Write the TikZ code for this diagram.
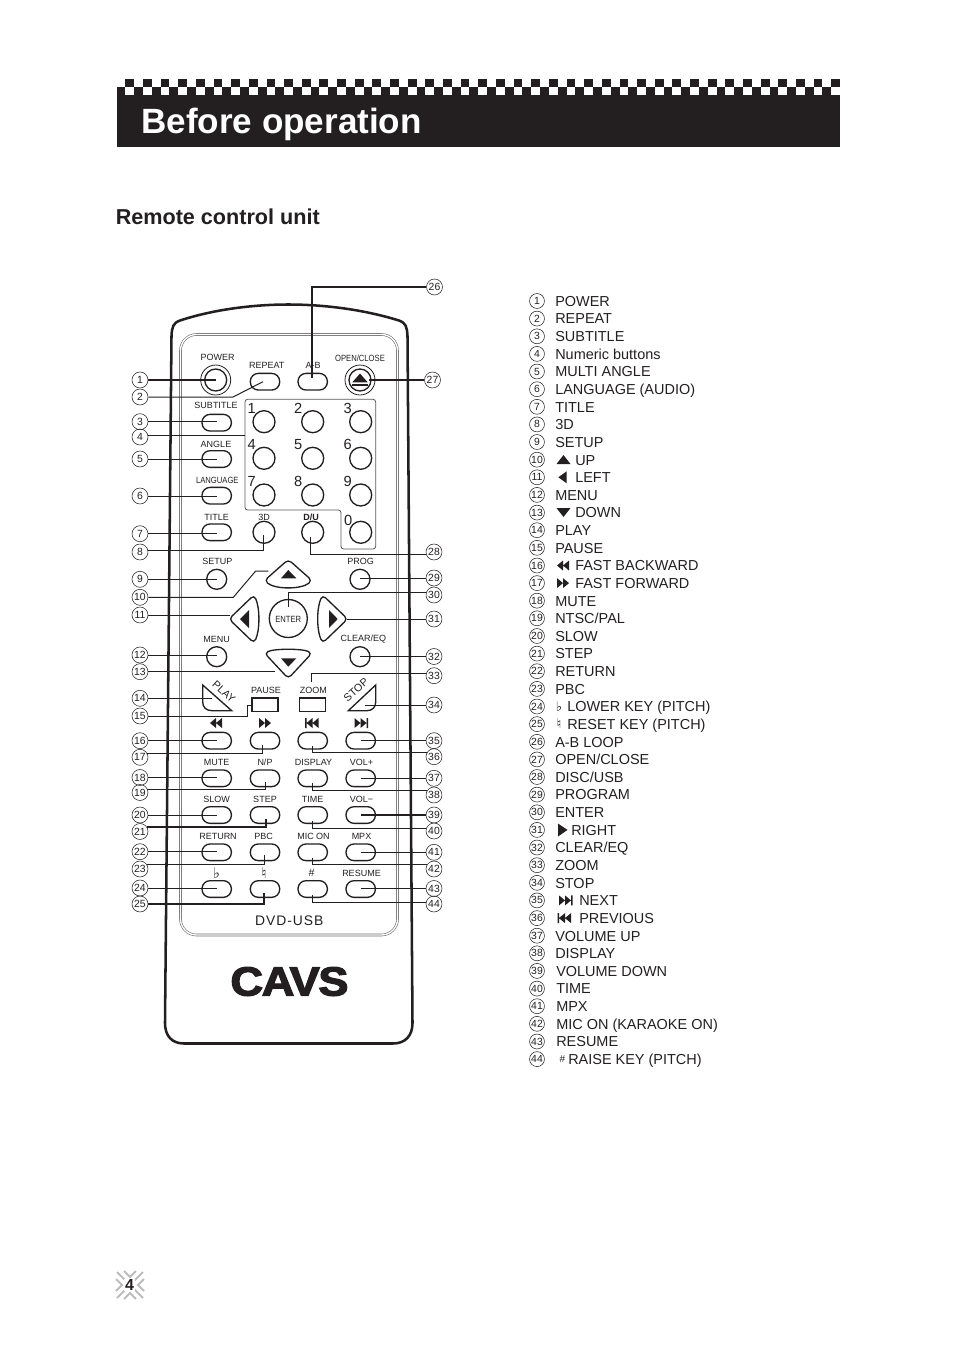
\documentclass[tikz,border=0pt]{standalone}
\usepackage{fontspec}
\setmainfont{Liberation Sans}
\newfontfamily\symf{DejaVu Sans}
\newfontfamily\logof[FakeBold=3,LetterSpace=-3]{Liberation Sans Bold}
\definecolor{ink}{HTML}{231F20}
\tikzset{
  numa/.style={circle,draw=ink,line width=.4pt,inner sep=0pt,minimum size=12pt,text=ink,font=\fontsize{7.8}{8}\selectfont},
  numb/.style={numa,minimum size=11.2pt},
  item/.style={anchor=west,inner sep=0pt,text=ink,text height=8pt,text depth=0pt,font=\fontsize{10.85}{12}\selectfont},
  pill/.style={rectangle,draw=ink,line width=1pt,rounded corners=6pt,minimum width=22pt,minimum height=12.5pt,inner sep=0pt},
  bigc/.style={circle,draw=ink,line width=1pt,minimum size=16.5pt,inner sep=0pt},
  smallc/.style={bigc,minimum size=15pt},
  lab/.style={inner sep=0pt,text=ink,font=\fontsize{6.75}{8}\selectfont},
  lead/.style={draw=ink,line width=.75pt},
  leadb/.style={draw=ink,line width=1.4pt},
  padkey/.style={draw=ink,line width=1pt,rounded corners=3pt},
}
\newcommand{\listrow}[4]{\node[numb] (c#1) at (537,#2) {#1}; \node[item] (t#1) at (#3,#2) {#4};}
\newcommand{\rewsym}[3]{\fill[ink,shift={(#1,#2)},#3] (-6,0) -- (0,-5) -- (0,5) -- cycle (0,0) -- (6,-5) -- (6,5) -- cycle;}
\newcommand{\prevsym}[3]{\fill[ink,shift={(#1,#2)},#3] (-7.5,-5) rectangle (-6,5) (-6,0) -- (0,-5) -- (0,5) -- cycle (0,0) -- (6,-5) -- (6,5) -- cycle;}
\begin{document}
\begin{tikzpicture}[x=.75pt,y=-.75pt]
  \useasboundingbox (0,0) rectangle (954,1350);
  % header
  \fill[ink] (116.5,87) rectangle (839.5,147);
  \foreach \k in {0,...,40}{
    \fill[ink] (125.3+17.65*\k,78.5) rectangle +(8.8,8.5);
    \fill[white] (125.3+17.65*\k,87) rectangle +(8.8,8.3);
  }
  \node[anchor=west,inner sep=0pt,text=white,font=\fontsize{26.3}{30}\bfseries\selectfont] (title) at (141,124) {Before operation};
  \node[anchor=west,inner sep=0pt,text=ink,font=\fontsize{16.2}{18}\bfseries\selectfont] (sub) at (115.5,217) {Remote control unit};
  % body
  \draw[ink,line width=1.9pt] (165,1023) -- (171.5,336) .. controls (172,327) and (173,323) .. (180,320.5)
    .. controls (215,309) and (255,304.5) .. (288.3,304.5) .. controls (322,304.5) and (362,309) .. (399,320.5)
    .. controls (406,323) and (407,327) .. (407.5,336) -- (412.5,1023) .. controls (412.5,1036) and (405,1043.5) .. (393,1043.5)
    -- (184,1043.5) .. controls (172,1043.5) and (165,1036) .. (165,1023) -- cycle;
  \draw[ink!65,line width=.45pt,double,double distance=1pt,rounded corners=12pt] (180.5,334.5) rectangle (397.5,935);
  \node[font=\fontsize{10.4}{12}\selectfont\addfontfeature{LetterSpace=7},text=ink,inner sep=0pt] (model) at (289.3,920.7) {DVD-USB};
  \node[font=\logof\fontsize{30.5}{34}\selectfont,text=ink,inner sep=0pt] (logo) at (289.5,981.5) {\scalebox{1.11}[1]{CAVS}};
  % top row
  \node[circle,draw=ink,line width=.6pt,minimum size=22.5pt,inner sep=0pt] (power2) at (215.7,380) {};
  \node[bigc] (power) at (215.7,380) {};
  \node[lab] (powerL) at (217.7,357.7) {POWER};
  \node[pill] (rep) at (265,381.7) {};
  \node[lab] (repL) at (266.7,365.7) {REPEAT};
  \node[pill] (ab) at (312.7,381.7) {};
  \node[lab] (abL) at (313,365.7) {A-B};
  \node[circle,draw=ink,line width=.6pt,minimum size=22.5pt,inner sep=0pt] (open2) at (360,380) {};
  \node[bigc] (open) at (360,380) {};
  \fill[ink] (360,373.5) -- (367.7,382.3) -- (352.3,382.3) -- cycle;
  \fill[ink] (352.3,384.3) rectangle (367.7,385.6);
  \node[lab] (openL) at (360,358) {\scalebox{.85}[1]{OPEN/CLOSE}};
  % left column
  \node[pill] (subt) at (216.7,422.7) {};
  \node[lab] (subtL) at (216,405.7) {SUBTITLE};
  \node[pill] (angle) at (216.7,459) {};
  \node[lab] (angleL) at (216,444) {ANGLE};
  \node[pill] (lang) at (216.7,495.7) {};
  \node[lab] (langL) at (217.3,480.7) {\scalebox{.85}[1]{LANGUAGE}};
  \node[pill] (ttl) at (216.7,532.3) {};
  \node[lab] (ttlL) at (216.7,517.7) {TITLE};
  % numeric buttons
  \draw[ink!75,line width=.6pt,rounded corners=2pt] (245,399.3) -- (375.7,399.3) -- (375.7,549) -- (341,549) -- (341,510) -- (245,510) -- cycle;
  \coordinate (t4) at (245,436);
  \node[bigc] (k1) at (264,421.7) {};
  \node[bigc] (k2) at (312.7,421.7) {};
  \node[bigc] (k3) at (360.7,421.7) {};
  \node[bigc] (k4) at (264,458.3) {};
  \node[bigc] (k5) at (312.7,458.3) {};
  \node[bigc] (k6) at (360.7,458.3) {};
  \node[bigc] (k7) at (264,495) {};
  \node[bigc] (k8) at (312.7,495) {};
  \node[bigc] (k9) at (360.7,495) {};
  \node[bigc] (k0) at (360.7,532.3) {};
  \node[lab,font=\fontsize{11}{12}\selectfont] (k1L) at (251.7,408) {1};
  \node[lab,font=\fontsize{11}{12}\selectfont] (k2L) at (298.3,408) {2};
  \node[lab,font=\fontsize{11}{12}\selectfont] (k3L) at (347.7,408) {3};
  \node[lab,font=\fontsize{11}{12}\selectfont] (k4L) at (251.7,444.5) {4};
  \node[lab,font=\fontsize{11}{12}\selectfont] (k5L) at (298.3,444.5) {5};
  \node[lab,font=\fontsize{11}{12}\selectfont] (k6L) at (347.7,444.5) {6};
  \node[lab,font=\fontsize{11}{12}\selectfont] (k7L) at (251.7,481) {7};
  \node[lab,font=\fontsize{11}{12}\selectfont] (k8L) at (298.3,481) {8};
  \node[lab,font=\fontsize{11}{12}\selectfont] (k9L) at (347.7,481) {9};
  \node[lab,font=\fontsize{11}{12}\selectfont] (k0L) at (348.3,520) {0};
  \node[bigc] (td) at (264,532.3) {};
  \node[lab] (tdL) at (264,517.7) {3D};
  \node[bigc] (du) at (312.7,532.3) {};
  \node[lab,font=\fontsize{6.75}{8}\bfseries\selectfont] (duL) at (311,517.7) {D/U};
  % cursor pad
  \node[smallc] (setup) at (216.7,579.3) {};
  \node[lab] (setupL) at (217.3,561.7) {SETUP};
  \node[smallc] (prog) at (360,579.3) {};
  \node[lab] (progL) at (360.7,561.7) {PROG};
  \node[smallc] (menu) at (216.7,656.7) {};
  \node[lab] (menuL) at (216.7,639.3) {MENU};
  \node[smallc] (clr) at (360,656.7) {};
  \node[lab] (clrL) at (363.3,639.3) {CLEAR/EQ};
  \node[circle,draw=ink,line width=1pt,minimum size=28.5pt,inner sep=0pt] (enter) at (288.3,618.5) {};
  \node[lab] (enterL) at (288.3,619) {\scalebox{.85}[1]{ENTER}};
  \draw[padkey] (288.3,559.5) -- (264.5,580.5) .. controls (275,589.5) and (301.5,589.5) .. (312,580.5) -- cycle;
  \fill[ink] (288.3,570) -- (296.3,578.3) -- (281,578.3) -- cycle;
  \draw[padkey] (288.3,678.5) -- (264.5,653) .. controls (275,648.5) and (301.5,648.5) .. (312,653) -- cycle;
  \fill[ink] (288.3,666.7) -- (296.3,658.3) -- (281,658.3) -- cycle;
  \draw[padkey] (229,619) -- (254,595) .. controls (260,608) and (260,630) .. (254,643) -- cycle;
  \fill[ink] (240,619) -- (249,610) -- (249,628) -- cycle;
  \draw[padkey] (347.6,619) -- (322.6,595) .. controls (316.6,608) and (316.6,630) .. (322.6,643) -- cycle;
  \fill[ink] (337.7,619) -- (329,610) -- (329,628) -- cycle;
  % play, pause, zoom, stop
  \draw[ink,line width=1pt] (202.7,685) -- (231.7,710.7) -- (212,710.7) .. controls (206,710.7) and (202.7,707) .. (202.7,702) -- cycle;
  \node[lab,rotate=-42,font=\fontsize{8}{9}\selectfont] (playL) at (224,692) {PLAY};
  \draw[ink,line width=1pt] (375.7,685) -- (348.3,710.7) -- (367,710.7) .. controls (372.5,710.7) and (375.7,707) .. (375.7,702) -- cycle;
  \node[lab,rotate=42,font=\fontsize{8}{9}\selectfont] (stopL) at (356,690) {STOP};
  \node[rectangle,draw=ink,line width=1.1pt,minimum width=19.5pt,minimum height=10pt,inner sep=0pt] (pause) at (265,704.7) {};
  \node[lab] (pauseL) at (266,690) {PAUSE};
  \node[rectangle,draw=ink,line width=1.1pt,minimum width=19.5pt,minimum height=10pt,inner sep=0pt] (zoom) at (312.5,704.7) {};
  \node[lab] (zoomL) at (313.3,690) {ZOOM};
  % transport row
  \rewsym{216}{723}{}
  \rewsym{265}{723}{xscale=-1}
  \prevsym{312.5}{723}{}
  \prevsym{360.5}{723}{xscale=-1}
  \node[pill] (fb) at (216.7,740.7) {};
  \node[pill] (ff) at (265,740.7) {};
  \node[pill] (prv) at (312.7,740.7) {};
  \node[pill] (nxt) at (360.7,740.7) {};
  % lower rows
  \node[pill] (mute) at (216.7,778.3) {};
  \node[lab] (muteL) at (216.7,762.3) {MUTE};
  \node[pill] (np) at (265,778.3) {};
  \node[lab] (npL) at (265,762.3) {N/P};
  \node[pill] (disp) at (312.7,778.3) {};
  \node[lab] (dispL) at (313.5,762.3) {DISPLAY};
  \node[pill] (volp) at (360.7,778.3) {};
  \node[lab] (volpL) at (361.5,762.3) {VOL+};
  \node[pill] (slow) at (216.7,815) {};
  \node[lab] (slowL) at (216.7,799.3) {SLOW};
  \node[pill] (step1) at (265,815) {};
  \node[lab] (step1L) at (265,799.3) {STEP};
  \node[pill] (time) at (312.7,815) {};
  \node[lab] (timeL) at (312.7,799.3) {TIME};
  \node[pill] (volm) at (360.7,815) {};
  \node[lab] (volmL) at (361.5,799.3) {VOL−};
  \node[pill] (ret) at (216.7,852.3) {};
  \node[lab] (retL) at (218,836) {RETURN};
  \node[pill] (pbc) at (265,852.3) {};
  \node[lab] (pbcL) at (263.7,836) {PBC};
  \node[pill] (mic) at (312.7,852.3) {};
  \node[lab] (micL) at (313.5,836) {MIC ON};
  \node[pill] (mpx) at (360.7,852.3) {};
  \node[lab] (mpxL) at (361.5,836) {MPX};
  \node[pill] (flat) at (216.7,889) {};
  \node[lab,font=\symf\fontsize{11}{12}\selectfont] (flatL) at (216.5,873.3) {♭};
  \node[pill] (nat) at (265,889) {};
  \node[lab,font=\symf\fontsize{11}{12}\selectfont] (natL) at (264,873.3) {♮};
  \node[pill] (shp) at (312.7,889) {};
  \node[lab,font=\fontsize{8}{9}\selectfont] (shpL) at (311.5,873.3) {\#};
  \node[pill] (res) at (360.7,889) {};
  \node[lab] (resL) at (361.5,873.3) {RESUME};
  % left callouts
  \node[numa] (n1) at (140,380) {1};
  \node[numa] (n2) at (140,397) {2};
  \node[numa] (n3) at (140,421.7) {3};
  \node[numa] (n4) at (140,437) {4};
  \node[numa] (n5) at (140,459) {5};
  \node[numa] (n6) at (140,496) {6};
  \node[numa] (n7) at (140,533.7) {7};
  \node[numa] (n8) at (140,552) {8};
  \node[numa] (n9) at (140,579.3) {9};
  \node[numa] (n10) at (140,597.3) {10};
  \node[numa] (n11) at (140,615) {11};
  \node[numa] (n12) at (140,655) {12};
  \node[numa] (n13) at (140,671.7) {13};
  \node[numa] (n14) at (140,698.3) {14};
  \node[numa] (n15) at (140,716) {15};
  \node[numa] (n16) at (140,740.7) {16};
  \node[numa] (n17) at (140,757.3) {17};
  \node[numa] (n18) at (140,777.5) {18};
  \node[numa] (n19) at (140,792.5) {19};
  \node[numa] (n20) at (140,815) {20};
  \node[numa] (n21) at (140,831.5) {21};
  \node[numa] (n22) at (140,851.7) {22};
  \node[numa] (n23) at (140,869) {23};
  \node[numa] (n24) at (140,888) {24};
  \node[numa] (n25) at (140,904) {25};
  % right callouts
  \node[numa] (n26) at (434.5,287) {26};
  \node[numa] (n27) at (432.5,380) {27};
  \node[numa] (n28) at (434,552) {28};
  \node[numa] (n29) at (434,578) {29};
  \node[numa] (n30) at (434,595) {30};
  \node[numa] (n31) at (434,619) {31};
  \node[numa] (n32) at (434,656.5) {32};
  \node[numa] (n33) at (434,675.7) {33};
  \node[numa] (n34) at (434,705) {34};
  \node[numa] (n35) at (434,740.7) {35};
  \node[numa] (n36) at (434,756.7) {36};
  \node[numa] (n37) at (434,778.3) {37};
  \node[numa] (n38) at (434,795) {38};
  \node[numa] (n39) at (434,815) {39};
  \node[numa] (n40) at (434,831) {40};
  \node[numa] (n41) at (434,852.3) {41};
  \node[numa] (n42) at (434,869) {42};
  \node[numa] (n43) at (434,888.5) {43};
  \node[numa] (n44) at (434,904) {44};
  % free ends
  \coordinate (e2a) at (233,397);
  \coordinate (e2b) at (263,381.7);
  \coordinate (e8) at (263,535);
  \coordinate (e10a) at (233.3,597.3);
  \coordinate (e10b) at (255.7,571);
  \coordinate (e10c) at (268.3,571);
  \coordinate (e11) at (230,615);
  \coordinate (e13) at (275,671.7);
  \coordinate (e14) at (211.7,698.3);
  \coordinate (e15a) at (247.3,705);
  \coordinate (e17) at (262.7,745);
  \coordinate (e19) at (265.7,781.7);
  \coordinate (e21) at (265.7,819.3);
  \coordinate (e23) at (264.3,855);
  \coordinate (e25) at (264.3,893.3);
  \coordinate (e26) at (311.7,378.3);
  \coordinate (e27) at (369.3,380);
  \coordinate (e28) at (310.7,536.7);
  \coordinate (e30) at (288.3,606.7);
  \coordinate (e31) at (346.7,619);
  \coordinate (e33) at (311.7,681.7);
  \coordinate (e34) at (365,705);
  \coordinate (e36) at (312.7,746);
  \coordinate (e38) at (312.7,783.3);
  \coordinate (e40) at (312.7,821);
  \coordinate (e42) at (312.7,858.3);
  \coordinate (e44) at (312.7,895);
  % left connectors
  \draw[leadb] (n1) -- (n1 -| power);
  \draw[lead] (n2) -- (e2a) -- (e2b);
  \draw[lead] (n3) -- (n3 -| subt);
  \draw[lead] (n4.10) -- (n4.10 -| t4);
  \draw[lead] (n5) -- (n5 -| angle);
  \draw[lead] (n6) -- (n6 -| lang);
  \draw[lead] (n7) -- (n7 -| ttl);
  \draw[lead] (n8.10) -| (e8);
  \draw[lead] (n9) -- (n9 -| setup);
  \draw[lead] (n10) -- (e10a) -- (e10b) -- (e10c);
  \draw[lead] (n11) -- (e11);
  \draw[lead] (n12) -- (n12 -| menu);
  \draw[lead] (n13) -- (e13);
  \draw[lead] (n14) -- (e14);
  \draw[lead] (n15) -| (e15a) -- (e15a -| pause.west);
  \draw[lead] (n16) -- (n16 -| fb);
  \draw[lead] (n17.30) -| (e17);
  \draw[leadb] (n18) -- (n18 -| mute);
  \draw[lead] (n19.25) -| (e19);
  \draw[lead] (n20) -- (n20 -| slow);
  \draw[leadb] (n21.30) -| (e21);
  \draw[lead] (n22) -- (n22 -| ret);
  \draw[lead] (n23.30) -| (e23);
  \draw[lead] (n24) -- (n24 -| flat);
  \draw[leadb] (n25) -| (e25);
  % right connectors
  \draw[leadb] (n26) -| (e26);
  \draw[leadb] (n27) -- (e27);
  \draw[lead] (n28.195) -| (e28);
  \draw[lead] (n29) -- (n29 -| prog);
  \draw[lead] (n30.165) -| (e30);
  \draw[lead] (n31) -- (e31);
  \draw[lead] (n32) -- (n32 -| clr);
  \draw[lead] (n33.165) -| (e33);
  \draw[lead] (n34) -- (e34);
  \draw[lead] (n35) -- (n35 -| nxt);
  \draw[lead] (n36.150) -| (e36);
  \draw[lead] (n37) -- (n37 -| volp);
  \draw[lead] (n38.150) -| (e38);
  \draw[leadb] (n39) -- (n39 -| volm);
  \draw[lead] (n40.160) -| (e40);
  \draw[lead] (n41) -- (n41 -| mpx);
  \draw[lead] (n42.150) -| (e42);
  \draw[lead] (n43) -- (n43 -| res);
  \draw[lead] (n44.170) -| (e44);
  % list
  \listrow{1}{301}{555}{POWER}
  \listrow{2}{318.6}{555}{REPEAT}
  \listrow{3}{336.3}{555}{SUBTITLE}
  \listrow{4}{353.9}{555}{Numeric buttons}
  \listrow{5}{371.5}{555}{MULTI ANGLE}
  \listrow{6}{389.2}{555}{LANGUAGE (AUDIO)}
  \listrow{7}{406.8}{555}{TITLE}
  \listrow{8}{424.4}{555}{3D}
  \listrow{9}{442}{555}{SETUP}
  \listrow{10}{459.7}{575}{UP}
  \listrow{11}{477.3}{575}{LEFT}
  \listrow{12}{494.9}{555}{MENU}
  \listrow{13}{512.6}{575}{DOWN}
  \listrow{14}{530.2}{555}{PLAY}
  \listrow{15}{547.8}{555}{PAUSE}
  \listrow{16}{565.5}{575}{FAST BACKWARD}
  \listrow{17}{583.1}{575}{FAST FORWARD}
  \listrow{18}{600.7}{555}{MUTE}
  \listrow{19}{618.3}{555}{NTSC/PAL}
  \listrow{20}{636}{555}{SLOW}
  \listrow{21}{653.6}{555}{STEP}
  \listrow{22}{671.2}{555}{RETURN}
  \listrow{23}{688.9}{555}{PBC}
  \listrow{24}{706.5}{567}{LOWER KEY (PITCH)}
  \listrow{25}{724.1}{567}{RESET KEY (PITCH)}
  \listrow{26}{741.8}{555}{A-B LOOP}
  \listrow{27}{759.4}{555}{OPEN/CLOSE}
  \listrow{28}{777}{555}{DISC/USB}
  \listrow{29}{794.6}{555}{PROGRAM}
  \listrow{30}{812.3}{555}{ENTER}
  \listrow{31}{829.9}{571}{RIGHT}
  \listrow{32}{847.5}{555}{CLEAR/EQ}
  \listrow{33}{865.2}{555}{ZOOM}
  \listrow{34}{882.8}{555}{STOP}
  \listrow{35}{900.4}{579}{NEXT}
  \listrow{36}{918.1}{579}{PREVIOUS}
  \listrow{37}{935.7}{555}{VOLUME UP}
  \listrow{38}{953.3}{555}{DISPLAY}
  \listrow{39}{970.9}{556}{VOLUME DOWN}
  \listrow{40}{988.6}{556}{TIME}
  \listrow{41}{1006.2}{556}{MPX}
  \listrow{42}{1023.8}{556}{MIC ON (KARAOKE ON)}
  \listrow{43}{1041.5}{556}{RESUME}
  \listrow{44}{1059.1}{568}{RAISE KEY (PITCH)}
  % list symbols
  \fill[ink] (563.5,455) -- (570.5,464) -- (556.5,464) -- cycle;
  \fill[ink] (558.3,477.3) -- (566.7,471.3) -- (566.7,483.3) -- cycle;
  \fill[ink] (563.5,517) -- (570.5,508) -- (556.5,508) -- cycle;
  \rewsym{563}{565.5}{}
  \rewsym{563}{583.1}{xscale=-1}
  \fill[ink] (567.5,829.9) -- (558,823.5) -- (558,836.5) -- cycle;
  \prevsym{565}{900.4}{xscale=-1}
  \prevsym{565}{918.1}{}
  \node[lab,font=\symf\fontsize{10}{11}\selectfont] (sflat) at (559,706.5) {♭};
  \node[lab,font=\symf\fontsize{10}{11}\selectfont] (snat) at (559,724.1) {♮};
  \node[lab,font=\fontsize{7.5}{9}\selectfont] (sshp) at (562.5,1059.5) {\#};
  % page number
  \draw[ink!30,line width=1.5pt] (117,1272) -- (143,1298) (143,1272) -- (117,1298);
  \draw[ink!30,line width=1.5pt] (124,1271) -- (130,1277) -- (136,1271) (124,1299) -- (130,1293) -- (136,1299);
  \draw[ink!30,line width=1.5pt] (116,1279) -- (122,1285) -- (116,1291) (144,1279) -- (138,1285) -- (144,1291);
  \node[fill=white,inner sep=.5pt,text=ink,font=\fontsize{12}{13}\bfseries\selectfont] (page) at (129.5,1285) {4};
\end{tikzpicture}
\end{document}
